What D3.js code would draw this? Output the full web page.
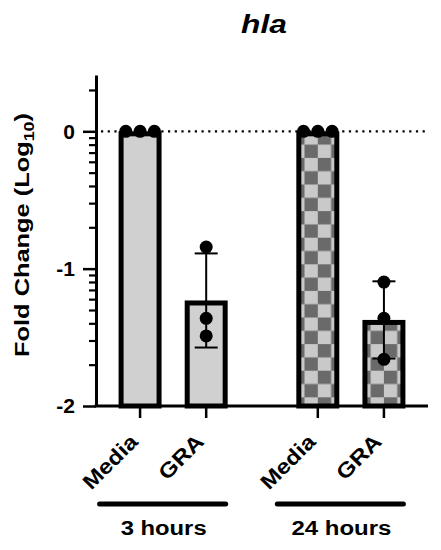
<!DOCTYPE html>
<html><head><meta charset="utf-8">
<script src="https://cdn.jsdelivr.net/npm/d3@7"></script>
<style>body{margin:0;background:#fff}svg{display:block}text{font-family:"Liberation Sans",Arial,sans-serif;font-weight:bold;fill:#000}</style>
</head><body><svg id="c" width="441" height="550"></svg>
<script>
const title = "hla";
const yTitle = "Fold Change (Log";
const groups = ["3 hours", "24 hours"];
const conditions = ["Media", "GRA"];
const media3h = [0, 0, 0];
const gra3h = [-0.843, -1.362, -1.49];
const media24h = [0, 0, 0];
const gra24h = [-1.098, -1.362, -1.66];
const yTickValues = [0, -1, -2];
const yTickLabels = ["0", "-1", "-2"];
const yMinorTicks = [0.301,
  -0.046, -0.097, -0.155, -0.222, -0.301, -0.398, -0.523, -0.699,
  -1.046, -1.097, -1.155, -1.222, -1.301, -1.398, -1.523, -1.699];
const yDomain = [-2, 0.41];

(function () {
const data = [
  {group: "3 hours", cond: "Media", pts: media3h, checker: false},
  {group: "3 hours", cond: "GRA", pts: gra3h, checker: false},
  {group: "24 hours", cond: "Media", pts: media24h, checker: true},
  {group: "24 hours", cond: "GRA", pts: gra24h, checker: true}
];
data.forEach(d => { d.mean = d3.mean(d.pts); d.sd = d3.deviation(d.pts); });

const svg = d3.select("#c");
const pLeft = 96, pRight = 428, pTop = 75, pBottom = 406;
const y = d3.scaleLinear().domain(yDomain).range([pBottom, pTop]);
const x0 = d3.scaleBand().domain(groups).range([pLeft, pRight]).paddingInner(0.256).paddingOuter(0.062);
const x1 = d3.scaleBand().domain(conditions).range([0, x0.bandwidth()]);
const cx = d => x0(d.group) + x1(d.cond) + x1.bandwidth() / 2;
const barW = x1.bandwidth() * 0.65, sw = 5;

function fit(sel, target, base) {
  const w = sel.node().getBBox().width;
  sel.attr("transform", base + ` scale(${target / w},1)`);
}

// patterns
const defs = svg.append("defs");
const sq = 13.3;
data.filter(d => d.checker).forEach((d, i) => {
  const p = defs.append("pattern").attr("id", "chk" + i).attr("patternUnits", "userSpaceOnUse")
    .attr("x", cx(d)).attr("y", y(0)).attr("width", sq * 2).attr("height", sq * 2);
  p.append("rect").attr("width", sq * 2).attr("height", sq * 2).attr("fill", "#c9c9c9");
  p.append("rect").attr("width", sq).attr("height", sq).attr("fill", "#6a6a6a");
  p.append("rect").attr("x", sq).attr("y", sq).attr("width", sq).attr("height", sq).attr("fill", "#6a6a6a");
  d.fill = "url(#chk" + i + ")";
});

// dotted zero line
svg.append("line").attr("x1", pLeft + 5).attr("x2", pRight).attr("y1", y(0)).attr("y2", y(0))
  .attr("stroke", "#000").attr("stroke-width", 2.2).attr("stroke-dasharray", "2.2,4.5");

// bars
svg.selectAll("rect.bar").data(data).enter().append("rect").attr("class", "bar")
  .attr("x", d => cx(d) - barW / 2 + sw / 2)
  .attr("width", barW - sw)
  .attr("y", d => y(d.mean) + sw / 2)
  .attr("height", d => y(yDomain[0]) - y(d.mean) - sw / 2)
  .attr("fill", d => d.fill || "#d0d0d0")
  .attr("stroke", "#000").attr("stroke-width", sw);

// error bars
const capW = 23;
const eb = svg.selectAll("g.eb").data(data.filter(d => d.sd > 0)).enter().append("g");
eb.append("line").attr("x1", cx).attr("x2", cx).attr("y1", d => y(d.mean + d.sd)).attr("y2", d => y(d.mean - d.sd))
  .attr("stroke", "#000").attr("stroke-width", 2);
eb.append("line").attr("x1", d => cx(d) - capW / 2).attr("x2", d => cx(d) + capW / 2)
  .attr("y1", d => y(d.mean + d.sd)).attr("y2", d => y(d.mean + d.sd)).attr("stroke", "#000").attr("stroke-width", 2);
eb.append("line").attr("x1", d => cx(d) - capW / 2).attr("x2", d => cx(d) + capW / 2)
  .attr("y1", d => y(d.mean - d.sd)).attr("y2", d => y(d.mean - d.sd)).attr("stroke", "#000").attr("stroke-width", 2);

// points (spread overlapping ones)
const r = 6.5;
data.forEach(d => {
  const py = d.pts.map(v => y(v));
  const offs = py.map(() => 0);
  const used = new Set();
  py.forEach((v, i) => {
    if (used.has(i)) return;
    const cl = py.map((w, j) => j).filter(j => !used.has(j) && Math.abs(py[j] - v) < 2 * r);
    cl.forEach((j, k) => { offs[j] = (k - (cl.length - 1) / 2) * 2.2 * r; used.add(j); });
  });
  svg.selectAll(null).data(d.pts).enter().append("circle")
    .attr("cx", (v, i) => cx(d) + offs[i]).attr("cy", v => y(v)).attr("r", r).attr("fill", "#000");
});

// y axis
const yAxis = svg.append("g").attr("transform", `translate(${pLeft},0)`)
  .call(d3.axisLeft(y).tickValues(yTickValues).tickFormat((v, i) => yTickLabels[i]).tickSize(13).tickSizeOuter(0).tickPadding(8));
yAxis.select(".domain").attr("stroke-width", 3);
yAxis.selectAll(".tick line").attr("stroke-width", 2.5);
yAxis.selectAll(".tick text").attr("font-size", 21).attr("font-weight", "bold").attr("font-family", '"Liberation Sans",Arial,sans-serif').attr("fill", "#000");
const yMinor = svg.append("g").attr("transform", `translate(${pLeft},0)`)
  .call(d3.axisLeft(y).tickValues(yMinorTicks).tickFormat("").tickSize(7).tickSizeOuter(0));
yMinor.select(".domain").remove();
yMinor.selectAll(".tick line").attr("stroke-width", 2.2);

// x axis line
svg.append("line").attr("x1", pLeft - 1.5).attr("x2", pRight).attr("y1", pBottom).attr("y2", pBottom)
  .attr("stroke", "#000").attr("stroke-width", 3);
// x ticks
svg.selectAll("line.xt").data(data).enter().append("line")
  .attr("x1", cx).attr("x2", cx).attr("y1", pBottom).attr("y2", pBottom + 12).attr("stroke", "#000").attr("stroke-width", 2.5);
// x labels rotated
svg.selectAll("text.xl").data(data).enter().append("text")
  .attr("text-anchor", "end").attr("font-size", 21)
  .text(d => d.cond)
  .each(function (d) {
    fit(d3.select(this), d.cond === "Media" ? 68 : 54, `translate(${cx(d) - 1},${pBottom + 37}) rotate(-45)`);
  });

// group lines & labels
groups.forEach(g => {
  const xs = data.filter(d => d.group === g).map(cx);
  const a = d3.min(xs) - 40.5, b = d3.max(xs) + 19.5;
  svg.append("line").attr("x1", a).attr("x2", b).attr("y1", 504).attr("y2", 504)
    .attr("stroke", "#000").attr("stroke-width", 5).attr("stroke-linecap", "round");
  const t = svg.append("text").attr("text-anchor", "middle").attr("font-size", 21).text(g);
  fit(t, g === "3 hours" ? 86 : 100, `translate(${(a + b) / 2 + 1},535)`);
});

// title
const tt = svg.append("text").attr("text-anchor", "middle")
  .attr("font-size", 25).attr("font-style", "italic").text(title);
fit(tt, 46, `translate(${(pLeft + pRight) / 2 + 2},33)`);

// y title
const yt = svg.append("text").attr("text-anchor", "middle").attr("font-size", 20);
yt.append("tspan").text(yTitle);
yt.append("tspan").attr("font-size", 14).attr("dy", 5).text("10");
yt.append("tspan").attr("dy", -5).text(")");
fit(yt, 244, "translate(29,235) rotate(-90)");
})();
</script></body></html>
